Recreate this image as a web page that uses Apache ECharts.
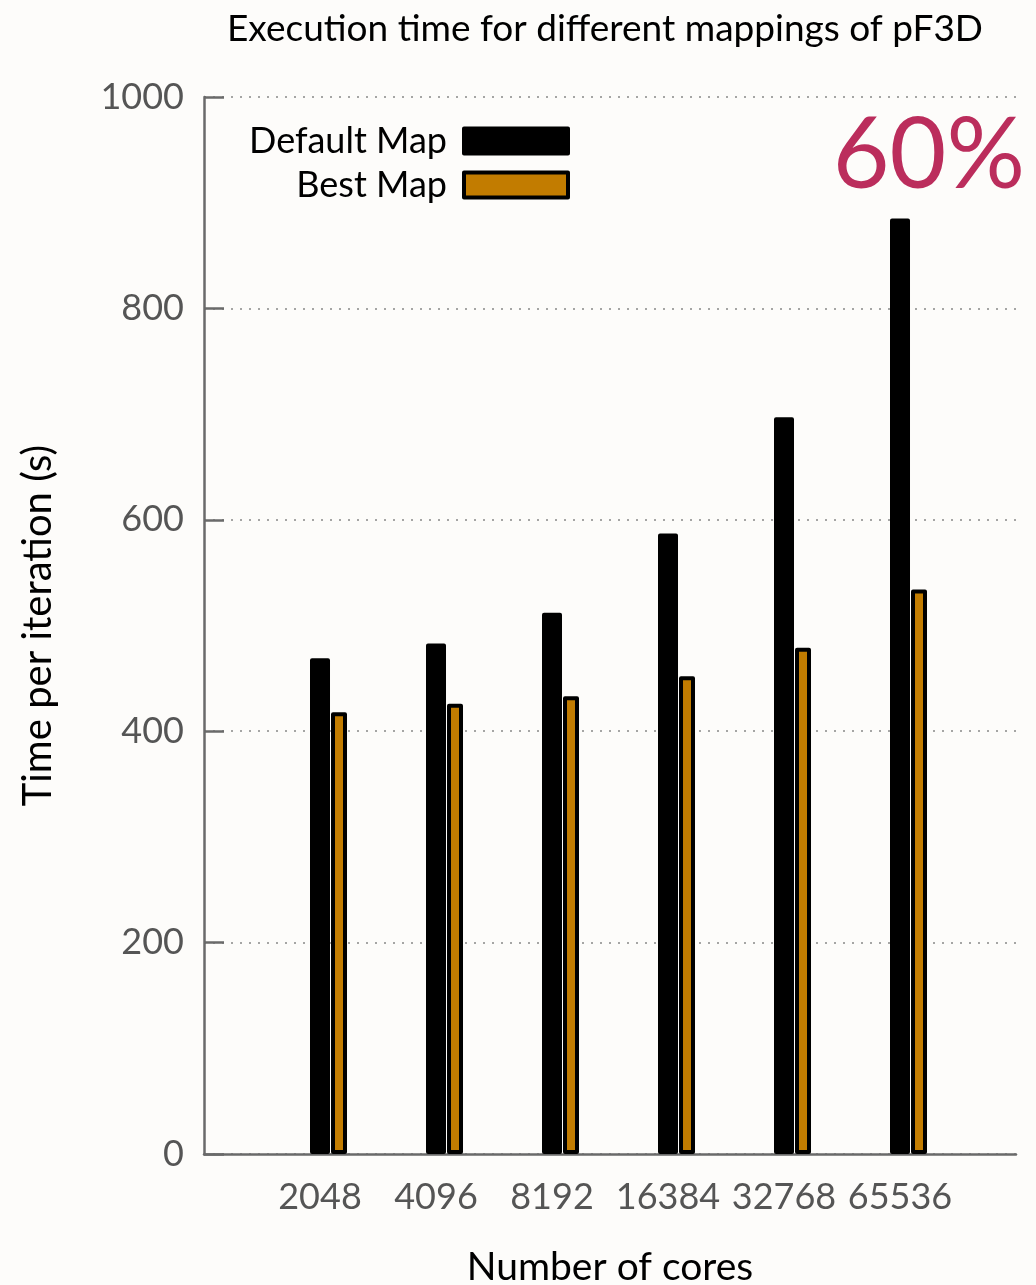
<!DOCTYPE html>
<html><head><meta charset="utf-8">
<script src="https://cdn.jsdelivr.net/npm/echarts@6/dist/echarts.min.js"></script>
<style>html,body{margin:0;padding:0;background:#fdfcfa}#c{width:1036px;height:1285px}</style>
</head><body><div id="c"></div>
<script>
// ---- data ----
const cores = ['2048', '4096', '8192', '16384', '32768', '65536'];
const defaultMap = [469, 483, 512, 587, 697, 885];
const bestMap = [418, 426, 433, 452, 479, 534];
const yTickLabels = ['0', '200', '400', '600', '800', '1000'];
const seriesNames = ['Default Map', 'Best Map'];
const titleText = 'Execution time for different mappings of pF3D';
const xName = 'Number of cores';
const yName = 'Time per iteration (s)';
const highlightText = '60%';

// ---- build ----
const FONT = 'Lato';
const axisCats = [''].concat(cores, ['']);
const pad = arr => ['-'].concat(arr, ['-']);
const AXIS_COLOR = '#6a6a6a';
const LABEL_COLOR = '#555';

const chart = echarts.init(document.getElementById('c'), null, {renderer: 'canvas'});
chart.setOption({
  backgroundColor: '#fdfcfa',
  animation: false,
  title: {
    text: titleText, left: 222, top: 6,
    textStyle: {fontFamily: FONT, fontSize: 37, fontWeight: 'normal', color: '#000'}
  },
  grid: {left: 204, right: 20, top: 97, bottom: 131, containLabel: false, outerBoundsMode: 'none'},
  legend: {
    data: seriesNames, orient: 'vertical', align: 'right',
    right: 461, top: 118, itemWidth: 104, itemHeight: 25, itemGap: 8,
    icon: 'rect', selectedMode: false,
    itemStyle: {borderColor: '#000', borderWidth: 4},
    textStyle: {fontFamily: FONT, fontSize: 36, color: '#000', padding: [0, 12, 0, 0]}
  },
  xAxis: {
    type: 'category', data: axisCats, boundaryGap: false,
    axisLine: {lineStyle: {color: AXIS_COLOR, width: 2.5}},
    axisTick: {show: false},
    axisLabel: {fontFamily: FONT, fontSize: 36, color: LABEL_COLOR, margin: 25, interval: 0},
    splitLine: {show: false},
    name: xName, nameLocation: 'middle', nameGap: 94,
    nameTextStyle: {fontFamily: FONT, fontSize: 39, color: '#000'}
  },
  yAxis: {
    type: 'value', min: 0, max: 1000, interval: 200,
    axisLine: {show: true, lineStyle: {color: AXIS_COLOR, width: 2.5}},
    axisTick: {show: true, inside: true, length: 20, lineStyle: {color: AXIS_COLOR, width: 2.5}},
    axisLabel: {fontFamily: FONT, fontSize: 36, color: LABEL_COLOR, margin: 20,
      formatter: (v) => yTickLabels[Math.round(v / 200)]},
    splitLine: {show: true, lineStyle: {color: '#888', width: 1.5, type: [2, 7]}},
    name: yName, nameLocation: 'middle', nameGap: 146, nameRotate: 90,
    nameTextStyle: {fontFamily: FONT, fontSize: 40, color: '#000'}
  },
  series: [
    {type: 'bar', name: '', barWidth: 16.2, barGap: '5%', silent: true,
     data: axisCats.map(() => '-')},
    {type: 'bar', name: seriesNames[0], barWidth: 20, barGap: '5%', data: pad(defaultMap),
     itemStyle: {color: '#000', borderColor: '#000', borderWidth: 4, borderJoin: 'round'}},
    {type: 'bar', name: seriesNames[1], barWidth: 16, barGap: '5%', data: pad(bestMap),
     itemStyle: {color: '#c27c00', borderColor: '#000', borderWidth: 4, borderJoin: 'round'}}
  ],
  graphic: [{
    type: 'text', right: 11, top: 107,
    style: {text: highlightText, fontFamily: FONT, fontSize: 98, fill: '#bb2d5c'}
  }]
});
</script></body></html>
